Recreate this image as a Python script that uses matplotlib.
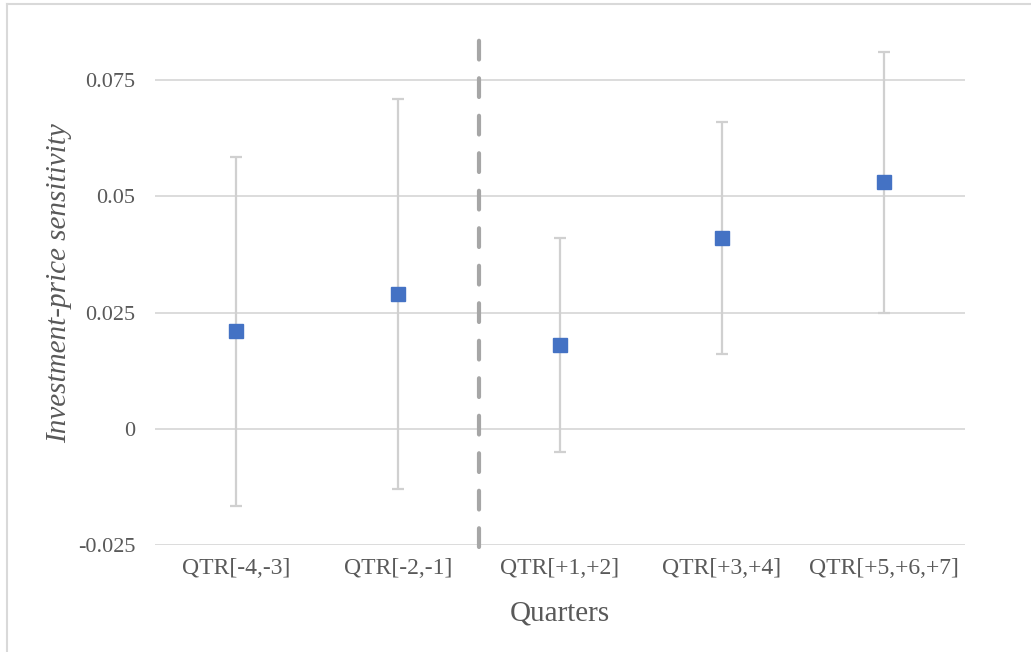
import matplotlib
matplotlib.use("Agg")
import matplotlib.pyplot as plt
from matplotlib.lines import Line2D

categories = ["QTR[-4,-3]", "QTR[-2,-1]", "QTR[+1,+2]", "QTR[+3,+4]", "QTR[+5,+6,+7]"]
estimates = [0.021, 0.029, 0.018, 0.041, 0.053]
upper = [0.0585, 0.071, 0.041, 0.066, 0.081]
lower = [-0.0167, -0.013, -0.005, 0.016, 0.025]
yticks = [-0.025, 0, 0.025, 0.05, 0.075]
yticklabels = ["-0.025", "0", "0.025", "0.05", "0.075"]

plt.rcParams['font.family'] = ['Liberation Serif', 'DejaVu Serif']
text_color = "#595959"

fig = plt.figure(figsize=(10.31, 6.52), dpi=100)
ax = fig.add_axes([155/1031, 1-545/652, (965-155)/1031, (545-22)/652])

x = list(range(len(categories)))
yerr_low = [e - l for e, l in zip(estimates, lower)]
yerr_up = [u - e for u, e in zip(upper, estimates)]
ax.errorbar(x, estimates, yerr=[yerr_low, yerr_up], fmt='none', ecolor="#D0D0D0",
            elinewidth=1.6, capsize=4.5, capthick=1.6, zorder=2)
ax.plot(x, estimates, linestyle='none', marker='s', markersize=10, color="#4472C4",
        markeredgecolor="#4472C4", zorder=3)

ax.plot([1.5, 1.5], [-0.0255, 0.0836], linestyle=(0, (4.5, 4.5)), color="#A6A6A6",
        linewidth=3.0, solid_capstyle='round', dash_capstyle='round', clip_on=False, zorder=4)

ax.set_xlim(-0.5, 4.5)
ax.set_ylim(-0.025, 0.0875)
ax.set_yticks(yticks)
ax.set_yticklabels(yticklabels)
ax.set_xticks(x)
ax.set_xticklabels(categories)
ax.grid(axis='y', color="#D9D9D9", linewidth=1.3)
ax.set_axisbelow(True)
for s in ax.spines.values():
    s.set_visible(False)
ax.tick_params(axis='x', length=0, labelsize=17, colors=text_color, pad=9)
ax.tick_params(axis='y', length=0, labelsize=16, colors=text_color, pad=14)

ax.set_xlabel("Quarters", fontsize=21, color=text_color, labelpad=16)
ax.set_ylabel("Investment-price sensitivity", fontsize=21, color=text_color,
              style='italic', labelpad=4)

fig.add_artist(Line2D([6.5/1031, 6.5/1031], [0, 1-4/652], transform=fig.transFigure,
                      color="#D9D9D9", linewidth=1.5))
fig.add_artist(Line2D([6.5/1031, 1], [1-4/652, 1-4/652], transform=fig.transFigure,
                      color="#D9D9D9", linewidth=1.5))

fig.savefig("out.png", dpi=100)
